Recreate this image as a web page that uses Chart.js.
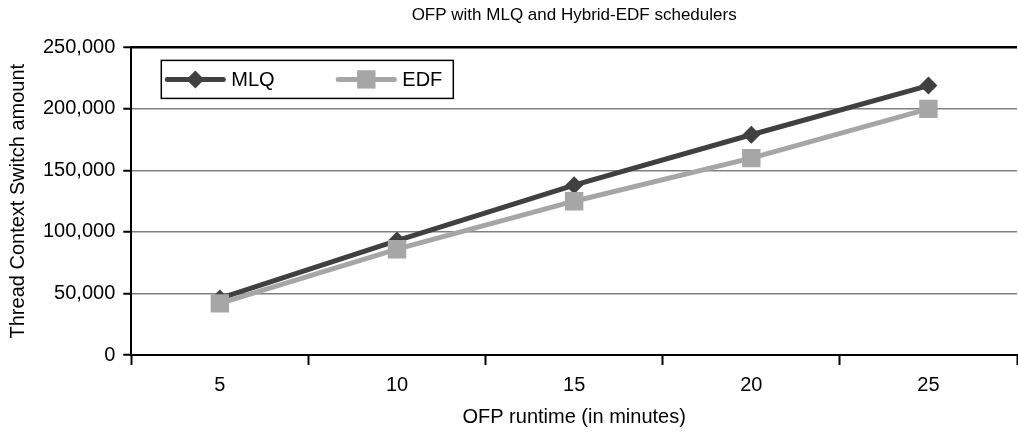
<!DOCTYPE html>
<html>
<head>
<meta charset="utf-8">
<script src="https://cdn.jsdelivr.net/npm/chart.js@4/dist/chart.umd.min.js"></script>
<style>
  html, body { margin: 0; padding: 0; background: #fff; overflow: hidden; }
  #wrap { width: 1030px; height: 432px; }
</style>
</head>
<body>
<div id="wrap"><canvas id="ofpChart" width="1030" height="432"></canvas></div>
<script>
const runtimes = ["5", "10", "15", "20", "25"];
const mlqSwitches = [46000, 93000, 138000, 179000, 219000];
const edfSwitches = [42000, 86000, 125000, 160000, 200000];
const yTicks = [0, 50000, 100000, 150000, 200000, 250000];

Chart.defaults.font.family = "'Liberation Sans', Arial, sans-serif";
Chart.defaults.color = "#000";

// legend drawn inside the plot, with a plain black frame
const boxedLegend = {
    id: "boxedLegend",
    afterDraw(chart) {
        const ctx = chart.ctx;
        const area = chart.chartArea;
        const x0 = area.left + 30, y0 = area.top + 13;
        ctx.save();
        ctx.fillStyle = "#fff";
        ctx.fillRect(x0, y0, 292, 38);
        ctx.strokeStyle = "#000";
        ctx.lineWidth = 1.5;
        ctx.strokeRect(x0, y0, 292, 38);
        const cy = y0 + 19;
        const starts = [x0 + 6, x0 + 177];
        chart.data.datasets.forEach((ds, i) => {
            const sx = starts[i];
            ctx.strokeStyle = ds.borderColor;
            ctx.lineWidth = ds.borderWidth;
            ctx.lineCap = "round";
            ctx.beginPath();
            ctx.moveTo(sx, cy);
            ctx.lineTo(sx + 56, cy);
            ctx.stroke();
            ctx.fillStyle = ds.pointBackgroundColor;
            ctx.beginPath();
            const r = ds.pointRadius;
            if (ds.pointStyle === "rectRot") {
                ctx.moveTo(sx + 28, cy - r);
                ctx.lineTo(sx + 28 + r, cy);
                ctx.lineTo(sx + 28, cy + r);
                ctx.lineTo(sx + 28 - r, cy);
            } else {
                const s = r * Math.SQRT1_2;
                ctx.rect(sx + 28 - s, cy - s, 2 * s, 2 * s);
            }
            ctx.fill();
            ctx.fillStyle = "#000";
            ctx.font = "20px 'Liberation Sans', Arial, sans-serif";
            ctx.textBaseline = "middle";
            ctx.fillText(ds.label, sx + 64, cy + 1);
        });
        ctx.restore();
    }
};

new Chart(document.getElementById("ofpChart").getContext("2d"), {
    type: "line",
    data: {
        labels: runtimes,
        datasets: [
            {
                label: "MLQ",
                data: mlqSwitches,
                borderColor: "#404040",
                backgroundColor: "#404040",
                pointBackgroundColor: "#404040",
                borderWidth: 5,
                pointStyle: "rectRot",
                pointRadius: 9,
                pointBorderWidth: 0,
                tension: 0,
                order: 2
            },
            {
                label: "EDF",
                data: edfSwitches,
                borderColor: "#a6a6a6",
                backgroundColor: "#a6a6a6",
                pointBackgroundColor: "#a6a6a6",
                borderWidth: 5,
                pointStyle: "rect",
                pointRadius: 13,
                pointBorderWidth: 0,
                tension: 0,
                order: 1
            }
        ]
    },
    options: {
        responsive: false,
        animation: false,
        layout: { padding: { left: 4, right: 10, top: 0, bottom: 3 } },
        plugins: {
            legend: { display: false },
            tooltip: { enabled: false },
            title: {
                display: true,
                text: "OFP with MLQ and Hybrid-EDF schedulers",
                fullSize: false,
                font: { size: 17, weight: "normal" },
                padding: { top: 5, bottom: 22 }
            }
        },
        scales: {
            x: {
                offset: true,
                grid: {
                    offset: true,
                    drawOnChartArea: false,
                    tickLength: 10,
                    tickColor: "#000",
                    tickWidth: 2
                },
                border: { color: "#000", width: 2 },
                ticks: { font: { size: 20 }, padding: 8, maxRotation: 0 },
                title: {
                    display: true,
                    text: "OFP runtime (in minutes)",
                    font: { size: 20 },
                    padding: { top: 0, bottom: 0 }
                }
            },
            y: {
                min: 0,
                max: 250000,
                afterBuildTicks: (axis) => {
                    axis.ticks = yTicks.map((v) => ({ value: v }));
                },
                grid: {
                    color: (c) => (c.tick && c.tick.value === 250000 ? "#000" : "#808080"),
                    lineWidth: (c) => (c.tick && c.tick.value === 250000 ? 2.5 : 1.5),
                    tickLength: 8,
                    tickColor: "#000",
                    tickWidth: 2
                },
                border: { color: "#000", width: 2 },
                ticks: {
                    font: { size: 20 },
                    padding: 8,
                    callback: (v) => Number(v).toLocaleString("en-US")
                },
                title: {
                    display: true,
                    text: "Thread Context Switch amount",
                    font: { size: 20 },
                    padding: { top: 2, bottom: 5 }
                }
            }
        }
    },
    plugins: [boxedLegend]
});
</script>
</body>
</html>
